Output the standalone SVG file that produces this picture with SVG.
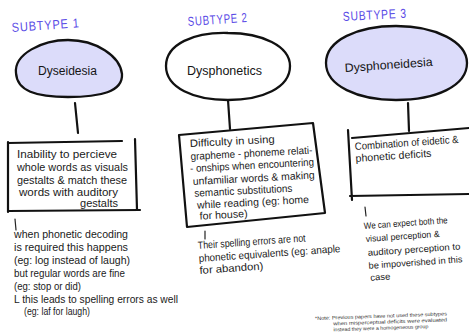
<svg xmlns="http://www.w3.org/2000/svg" width="469" height="333" viewBox="0 0 469 333">
  <style>
    .bg { fill: #ffffff; }
    .oval { stroke: #111; stroke-width: 2.3; }
    .lav { fill: #dcdcfa; }
    .plain { fill: #ffffff; }
    .edge { fill: none; stroke: #111; stroke-width: 2.2; stroke-linecap: round; stroke-linejoin: round; }
    .tick { fill: none; stroke: #222; stroke-width: 1.2; stroke-linecap: round; }
    .label { font-family: "Liberation Sans", Arial, sans-serif; font-size: 13px; fill: #5a4be6; letter-spacing: 1px; }
    .name { font-family: "Liberation Sans", Arial, sans-serif; font-size: 12px; fill: #151515; }
    .txt { font-family: "Liberation Sans", Arial, sans-serif; font-size: 10.5px; fill: #1a1a1a; }
    .txt-s { font-family: "Liberation Sans", Arial, sans-serif; font-size: 9px; fill: #1a1a1a; }
    .note { font-family: "Liberation Sans", Arial, sans-serif; font-size: 5px; fill: #333; }
  </style>
  <rect class="bg" x="0" y="0" width="469" height="333"/>

  <!-- connectors: ovals to boxes -->
  <g id="connectors">
    <path class="edge" d="M75,103 L78,133"/>
    <path class="edge" d="M228,100 L230,129"/>
    <path class="edge" d="M408,103 L409,131"/>
  </g>

  <!-- subtype 1 -->
  <g id="subtype1">
    <text class="label" x="12" y="32" textLength="68" lengthAdjust="spacingAndGlyphs" transform="rotate(-4 12 32)">SUBTYPE 1</text>
    <g id="dyseidesia">
      <path class="oval lav" d="M16,73 C14,54 42,40 68,40 C96,40 120,56 122,74 C123,92 100,97 68,97 C36,97 17,91 16,73 Z"/>
      <text class="name" x="38" y="75" textLength="59" lengthAdjust="spacingAndGlyphs">Dyseidesia</text>
    </g>
    <g id="box1">
      <path class="edge" d="M8,143 L122,141 M135,139 L137,210 M8,211 L140,210 M8,142 L8,212"/>
      <text class="txt" x="17" y="158" textLength="100" lengthAdjust="spacingAndGlyphs">Inability to percieve</text>
      <text class="txt" x="17" y="171" textLength="111" lengthAdjust="spacingAndGlyphs">whole words as visuals</text>
      <text class="txt" x="17" y="184" textLength="110" lengthAdjust="spacingAndGlyphs">gestalts &amp; match these</text>
      <text class="txt" x="19" y="196" textLength="99" lengthAdjust="spacingAndGlyphs">words with auditory</text>
      <text class="txt" x="80" y="207" textLength="38" lengthAdjust="spacingAndGlyphs">gestalts</text>
    </g>
    <g id="notes1">
      <path class="tick" d="M15,219 L16,230"/>
      <text class="txt" x="14" y="238" textLength="114" lengthAdjust="spacingAndGlyphs">when phonetic decoding</text>
      <text class="txt" x="14" y="251" textLength="114" lengthAdjust="spacingAndGlyphs">is required this happens</text>
      <text class="txt" x="14" y="264" textLength="116" lengthAdjust="spacingAndGlyphs">(eg: log instead of laugh)</text>
      <text class="txt" x="14" y="277" textLength="111" lengthAdjust="spacingAndGlyphs">but regular words are fine</text>
      <text class="txt" x="14" y="290" textLength="67" lengthAdjust="spacingAndGlyphs">(eg: stop or did)</text>
      <text class="txt" x="14" y="303" textLength="164" lengthAdjust="spacingAndGlyphs">L this leads to spelling errors as well</text>
      <text class="txt" x="24" y="315" textLength="66" lengthAdjust="spacingAndGlyphs">(eg: laf for laugh)</text>
    </g>
  </g>

  <!-- subtype 2 -->
  <g id="subtype2">
    <text class="label" x="188" y="26" textLength="60" lengthAdjust="spacingAndGlyphs" transform="rotate(-4 188 26)">SUBTYPE 2</text>
    <g id="dysphonetics">
      <path class="oval plain" d="M166,66 C166,44 194,32 228,33 C262,33 290,46 290,66 C290,88 262,100 228,100 C194,100 166,88 166,66 Z"/>
      <text class="name" x="187" y="75" textLength="75" lengthAdjust="spacingAndGlyphs">Dysphonetics</text>
    </g>
    <g id="box2">
      <path class="edge" d="M179,135 L313,123 L325,213 L187,227 Z"/>
      <g transform="rotate(-3 190 147)">
        <text class="txt" x="190" y="147" textLength="85" lengthAdjust="spacingAndGlyphs">Difficulty in using</text>
        <text class="txt" x="190" y="160" textLength="122" lengthAdjust="spacingAndGlyphs">grapheme - phoneme relati-</text>
        <text class="txt" x="189" y="172" textLength="124" lengthAdjust="spacingAndGlyphs">- onships when encountering</text>
        <text class="txt" x="191" y="185" textLength="122" lengthAdjust="spacingAndGlyphs">unfamiliar words &amp; making</text>
        <text class="txt" x="192" y="197" textLength="98" lengthAdjust="spacingAndGlyphs">semantic substitutions</text>
        <text class="txt" x="194" y="209" textLength="112" lengthAdjust="spacingAndGlyphs">while reading (eg: home</text>
        <text class="txt" x="196" y="220" textLength="48" lengthAdjust="spacingAndGlyphs">for house)</text>
      </g>
    </g>
    <g id="notes2">
      <path class="tick" d="M205,231 L205,239"/>
      <g transform="rotate(-4 198 249)">
        <text class="txt" x="198" y="249" textLength="108" lengthAdjust="spacingAndGlyphs">Their spelling errors are not</text>
        <text class="txt" x="198" y="262" textLength="142" lengthAdjust="spacingAndGlyphs">phonetic equivalents (eg: anaple</text>
        <text class="txt" x="198" y="274" textLength="64" lengthAdjust="spacingAndGlyphs">for abandon)</text>
      </g>
    </g>
  </g>

  <!-- subtype 3 -->
  <g id="subtype3">
    <text class="label" x="343" y="21" textLength="64" lengthAdjust="spacingAndGlyphs" transform="rotate(-3 343 21)">SUBTYPE 3</text>
    <g id="dysphoneidesia">
      <path class="oval lav" d="M326,63 C326,40 358,26 396,26 C436,26 467,42 467,63 C467,86 436,100 396,100 C358,100 326,86 326,63 Z"/>
      <text class="name" x="345" y="72" textLength="88" lengthAdjust="spacingAndGlyphs" transform="rotate(-4 345 72)">Dysphoneidesia</text>
    </g>
    <g id="box3">
      <path class="edge" d="M352,138 L469,128 M348,130 L352,200 M350,196 L469,194"/>
      <g transform="rotate(-4 355 150)">
        <text class="txt" x="355" y="150" textLength="104" lengthAdjust="spacingAndGlyphs">Combination of eidetic &amp;</text>
        <text class="txt" x="355" y="162" textLength="76" lengthAdjust="spacingAndGlyphs">phonetic deficits</text>
      </g>
    </g>
    <g id="notes3">
      <path class="tick" d="M365,207 L366,216"/>
      <g transform="rotate(-4 364 229)">
        <text class="txt-s" x="364" y="229" textLength="84" lengthAdjust="spacingAndGlyphs">We can expect both the</text>
        <text class="txt-s" x="365" y="242" textLength="74" lengthAdjust="spacingAndGlyphs">visual perception &amp;</text>
        <text class="txt-s" x="366" y="256" textLength="93" lengthAdjust="spacingAndGlyphs">auditory perception to</text>
        <text class="txt-s" x="366" y="269" textLength="94" lengthAdjust="spacingAndGlyphs">be impoverished in this</text>
        <text class="txt-s" x="367" y="281" textLength="20" lengthAdjust="spacingAndGlyphs">case</text>
      </g>
    </g>
  </g>

  <!-- footnote -->
  <g id="footnote" transform="rotate(-2 315 320)">
    <text class="note" x="315" y="320" textLength="132" lengthAdjust="spacingAndGlyphs">*Note: Previous papers have not used these subtypes</text>
    <text class="note" x="333" y="326" textLength="114" lengthAdjust="spacingAndGlyphs">when misperceptual deficits were evaluated</text>
    <text class="note" x="333" y="332" textLength="95" lengthAdjust="spacingAndGlyphs">instead they were a homogeneous group</text>
  </g>
</svg>
